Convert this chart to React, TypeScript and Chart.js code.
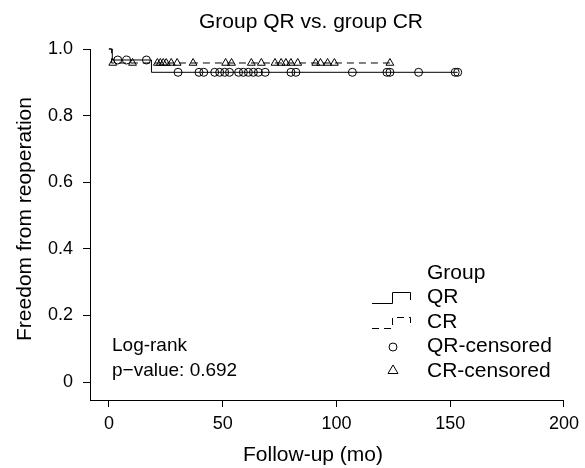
import React, { useEffect, useRef } from "react";
import { Chart, registerables } from "chart.js";

Chart.register(...registerables);

// ---- Data ----
const xTicks = [0, 50, 100, 150, 200];
const yTicks = [0, 0.2, 0.4, 0.6, 0.8, 1.0];

// Kaplan–Meier steps: event times and the survival level after each one
const qrEventTimes = [1.5, 18.7];
const qrLevels = [1.0, 0.967, 0.93];
const qrEndTime = 153.3;

const crEventTimes = [1.2];
const crLevels = [1.0, 0.958];
const crEndTime = 123.5;

// Censoring times (months)
const qrCensorTimes = [
  3.9, 7.8, 16.5, 30.4, 39.6, 41.7, 46.5, 48.7, 50.9, 53.0, 57.0, 59.1, 61.3,
  63.5, 65.7, 68.7, 80.0, 82.2, 107.0, 122.2, 123.5, 136.1, 152.2, 153.3,
];
const crCensorTimes = [
  1.7, 10.4, 21.3, 22.6, 23.9, 25.2, 27.4, 30.0, 37.0, 51.3, 53.9, 62.6, 67.0,
  73.0, 75.7, 77.8, 80.0, 83.0, 90.9, 93.0, 96.1, 99.1, 123.5,
];

const FONT = "'Liberation Sans', Arial, Helvetica, sans-serif";

function levelAt(eventTimes: number[], levels: number[], t: number) {
  let lvl = levels[0];
  eventTimes.forEach((e, i) => {
    if (t >= e) lvl = levels[i + 1];
  });
  return lvl;
}

function stepPoints(eventTimes: number[], levels: number[], end: number) {
  const pts = [{ x: 0, y: levels[0] }];
  eventTimes.forEach((e, i) => pts.push({ x: e, y: levels[i + 1] }));
  pts.push({ x: end, y: levels[levels.length - 1] });
  return pts;
}

const textPlugin = {
  id: "textPlugin",
  afterDraw(chart: any) {
    const ctx = chart.ctx as CanvasRenderingContext2D;
    ctx.save();
    ctx.fillStyle = "#000";
    ctx.strokeStyle = "#000";
    ctx.textBaseline = "middle";

    // main title
    ctx.font = `21px ${FONT}`;
    ctx.textAlign = "center";
    ctx.fillText("Group QR vs. group CR", 311, 22);

    // x axis title
    ctx.font = `21px ${FONT}`;
    ctx.fillText("Follow-up (mo)", 313, 455);

    // y axis title
    ctx.save();
    ctx.translate(25, 219);
    ctx.rotate(-Math.PI / 2);
    ctx.fillText("Freedom from reoperation", 0, 0);
    ctx.restore();

    // log-rank annotation
    ctx.font = `19px ${FONT}`;
    ctx.textAlign = "left";
    ctx.fillText("Log-rank", 112, 346);
    ctx.fillText("p\u2212value: 0.692", 112, 371);

    // legend
    ctx.font = `21px ${FONT}`;
    ctx.fillText("Group", 427, 273);
    ctx.fillText("QR", 427, 297.5);
    ctx.fillText("CR", 427, 322);
    ctx.fillText("QR-censored", 427, 346.5);
    ctx.fillText("CR-censored", 427, 371);

    ctx.lineWidth = 1;
    ctx.beginPath();
    ctx.moveTo(372, 303.5);
    ctx.lineTo(392.5, 303.5);
    ctx.lineTo(392.5, 292.5);
    ctx.lineTo(410.5, 292.5);
    ctx.lineTo(410.5, 300);
    ctx.stroke();

    ctx.setLineDash([7, 5]);
    ctx.beginPath();
    ctx.moveTo(372, 328.5);
    ctx.lineTo(392.5, 328.5);
    ctx.lineTo(392.5, 317.5);
    ctx.lineTo(410.5, 317.5);
    ctx.lineTo(410.5, 325);
    ctx.stroke();
    ctx.setLineDash([]);

    ctx.beginPath();
    ctx.arc(393, 347, 4, 0, Math.PI * 2);
    ctx.stroke();

    ctx.beginPath();
    ctx.moveTo(393, 365);
    ctx.lineTo(398, 373.5);
    ctx.lineTo(388, 373.5);
    ctx.closePath();
    ctx.stroke();

    ctx.restore();
  },
};

export default function App() {
  const ref = useRef<HTMLCanvasElement | null>(null);

  useEffect(() => {
    document.body.style.margin = "0";
    if (!ref.current) return;
    const chart = new Chart(ref.current, {
      type: "line",
      data: {
        datasets: [
          {
            label: "QR",
            data: stepPoints(qrEventTimes, qrLevels, qrEndTime),
            stepped: true,
            borderColor: "#000",
            borderWidth: 1,
            pointRadius: 0,
            fill: false,
            clip: false,
          },
          {
            label: "CR",
            data: stepPoints(crEventTimes, crLevels, crEndTime),
            stepped: true,
            borderColor: "#000",
            borderWidth: 1,
            borderDash: [7, 5],
            pointRadius: 0,
            fill: false,
            clip: false,
          },
          {
            label: "QR-censored",
            data: qrCensorTimes.map((t) => ({ x: t, y: levelAt(qrEventTimes, qrLevels, t) })),
            showLine: false,
            pointStyle: "circle",
            pointRadius: 4,
            pointBorderWidth: 1,
            pointBorderColor: "#000",
            pointBackgroundColor: "rgba(0,0,0,0)",
            clip: false,
          },
          {
            label: "CR-censored",
            data: crCensorTimes.map((t) => ({ x: t, y: levelAt(crEventTimes, crLevels, t) })),
            showLine: false,
            pointStyle: "triangle",
            pointRadius: 4.5,
            pointBorderWidth: 1,
            pointBorderColor: "#000",
            pointBackgroundColor: "rgba(0,0,0,0)",
            clip: false,
          },
        ] as any,
      },
      options: {
        animation: false,
        responsive: false,
        maintainAspectRatio: false,
        layout: { padding: { top: 49, right: 16, left: 0, bottom: 0 } },
        plugins: {
          legend: { display: false },
          tooltip: { enabled: false },
          title: { display: false },
        },
        scales: {
          x: {
            type: "linear",
            min: -8.3,
            max: 200,
            afterBuildTicks: (s: any) => {
              s.ticks = xTicks.map((v) => ({ value: v }));
            },
            afterFit: (s: any) => {
              s.height = 68;
            },
            grid: {
              drawOnChartArea: false,
              drawTicks: true,
              tickLength: 7,
              color: "#000",
            },
            border: { display: true, color: "#000", width: 1 },
            ticks: {
              color: "#000",
              padding: 6,
              maxRotation: 0,
              font: { family: FONT, size: 18 },
              callback: (v: any) => String(v),
            },
          },
          y: {
            type: "linear",
            min: -0.054,
            max: 1.0,
            afterBuildTicks: (s: any) => {
              s.ticks = yTicks.map((v) => ({ value: v }));
            },
            afterFit: (s: any) => {
              s.width = 90;
            },
            grid: {
              drawOnChartArea: false,
              drawTicks: true,
              tickLength: 7,
              color: "#000",
            },
            border: { display: true, color: "#000", width: 1 },
            ticks: {
              color: "#000",
              padding: 10,
              font: { family: FONT, size: 18 },
              callback: (v: any) => (v === 0 ? "0" : Number(v).toFixed(1)),
            },
          },
        },
      } as any,
      plugins: [textPlugin],
    });
    return () => chart.destroy();
  }, []);

  return (
    <div style={{ width: 585, height: 468, background: "#fff" }}>
      <canvas ref={ref} width={585} height={468} style={{ width: 585, height: 468, display: "block" }} />
    </div>
  );
}
